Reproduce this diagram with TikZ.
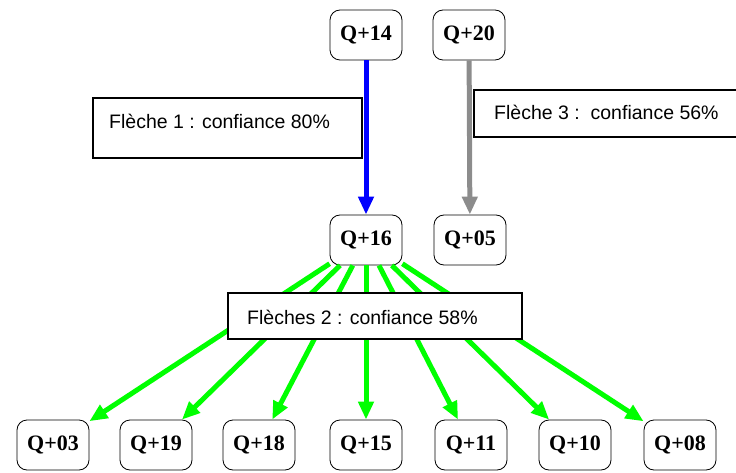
\documentclass[tikz,border=0pt]{standalone}
\usepackage{fontspec}
\setmainfont{Liberation Serif}
\newfontfamily\labelfont{Liberation Sans}
\usetikzlibrary{arrows.meta}
\definecolor{fgreen}{RGB}{0,255,0}
\definecolor{fgray}{RGB}{140,140,140}
\begin{document}
\begin{tikzpicture}[x=1pt,y=-1pt,
  qbox/.style={draw, rounded corners=10pt, line width=0.8pt, fill=white,
    minimum width=72pt, minimum height=50pt, inner sep=0pt,
    font=\fontsize{22}{22}\selectfont\bfseries},
  lbox/.style={draw, line width=1.2pt, fill=white},
  ltext/.style={anchor=west, inner sep=0pt, font=\labelfont\fontsize{19.5}{19.5}\selectfont},
  arr/.style={line width=5pt, -{Triangle[length=18pt,width=15pt]}}]
\useasboundingbox (0,0) rectangle (736,473);
\clip (0,0) rectangle (736,473);
% top
\node[qbox] (q14) at (366,35){Q+14};
\node[qbox] (q20) at (469,35){Q+20};
% middle
\node[qbox] (q16) at (366,240){Q+16};
\node[qbox] (q05) at (470,240){Q+05};
% bottom
\node[qbox] (q03) at (53,445){Q+03};
\node[qbox] (q19) at (156,445){Q+19};
\node[qbox] (q18) at (259,445){Q+18};
\node[qbox] (q15) at (366,445){Q+15};
\node[qbox] (q11) at (471,445){Q+11};
\node[qbox] (q10) at (575,445){Q+10};
\node[qbox] (q08) at (680,445){Q+08};
\draw[arr, blue](q14) -- (q16);
\draw[arr, fgray](q20) -- (q05);
\foreach \t in {q03,q19,q18,q15,q11,q10,q08}
  \draw[arr, fgreen](q16) -- (\t);
% labels
\draw[lbox] (93,98) rectangle (362,158);
\node[ltext] (fl1) at (109,121){Flèche 1 : confiance 80\%};
\draw[lbox] (474,90) rectangle (742,137);
\node[ltext] (fl3) at (494,112){Flèche 3 :\ \ confiance 56\%};
\draw[lbox] (228,293) rectangle (522,339);
\node[ltext] (fl2) at (247,317){Flèches 2 : confiance 58\%};
\end{tikzpicture}
\end{document}
